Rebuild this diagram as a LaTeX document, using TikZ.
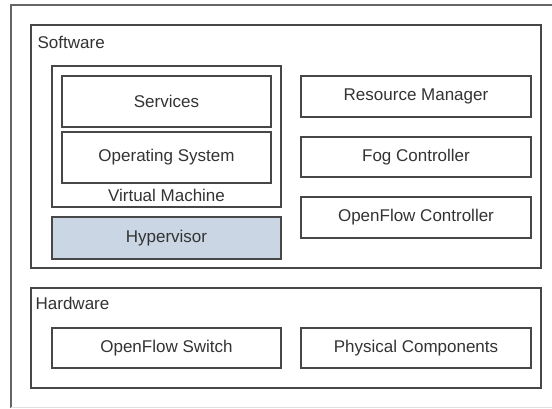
\documentclass[tikz,border=0pt]{standalone}
\usepackage{fontspec}
\setmainfont{Liberation Sans}
\usepackage{tikz}
\definecolor{hvfill}{RGB}{202,214,228}

\begin{document}
\begin{tikzpicture}[x=1pt,y=-1pt,line width=1.3pt,
    box/.style={draw=black!72,text=black!80,inner sep=0pt,font=\fontsize{17}{20}\selectfont},
    layer/.style={draw=black!72,line width=1.3pt},
    lbl/.style={text=black!80,inner sep=0pt,anchor=west,font=\fontsize{17}{20}\selectfont}]

  \useasboundingbox (0,0) rectangle (552,408);
  \fill[white] (0,0) rectangle (552,408);
  % outer frame runs off the right edge
  \draw[draw=black!60] (552,5) -- (11,5) -- (11,408);
  \draw[draw=black!12] (11,407.5) -- (552,407.5);

  \draw[layer] (31,25) rectangle (541,268);
  \node[lbl] (sw) at (37,42) {Software};

  \node[box,minimum width=229pt,minimum height=141pt] (vm) at (166.5,136.5) {};
  \node[box,minimum width=209pt,minimum height=51pt] (srv) at (166.5,101.5) {Services};
  \node[box,minimum width=209pt,minimum height=51pt] (os) at (166.5,157.5) {Operating System};
  \node[text=black!80,font=\fontsize{17}{20}\selectfont] (vml) at (166.5,195) {Virtual Machine};
  \node[box,fill=hvfill,minimum width=229pt,minimum height=42pt] (hv) at (166.5,238) {Hypervisor};

  \node[box,minimum width=230pt,minimum height=41pt] (rm) at (416,96.5) {Resource Manager};
  \node[box,minimum width=230pt,minimum height=40pt] (fc) at (416,157) {Fog Controller};
  \node[box,minimum width=230pt,minimum height=41pt] (ofc) at (416,217.5) {OpenFlow Controller};

  \draw[layer] (31,288) rectangle (541,388);
  \node[lbl] (hw) at (35,303) {Hardware};

  \node[box,minimum width=229pt,minimum height=40pt] (ofs) at (166.5,348) {OpenFlow Switch};
  \node[box,minimum width=230pt,minimum height=40pt] (pc) at (416,348) {Physical Components};

\end{tikzpicture}
\end{document}
